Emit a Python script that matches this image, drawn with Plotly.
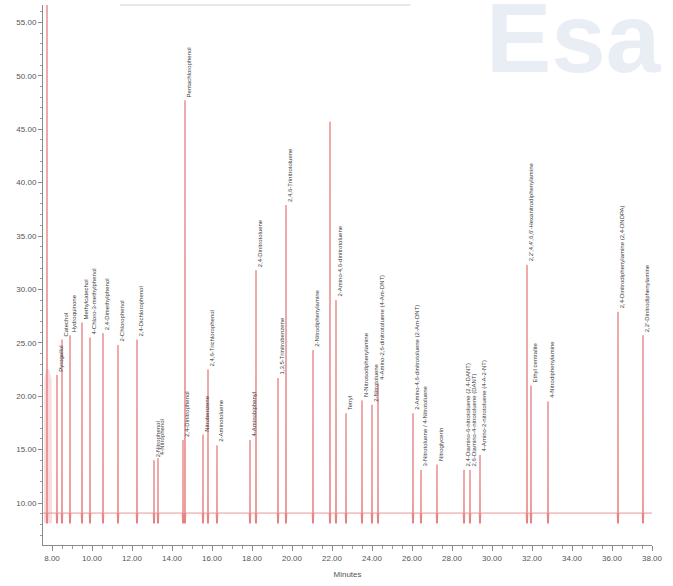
import plotly.graph_objects as go

# Retention times (minutes), detector response and compound labels
ret_times = [8.25, 8.50, 8.90, 9.50, 9.90, 10.55, 11.30, 12.25, 13.10, 13.30,
             14.55, 14.65, 15.55, 15.80, 16.25, 17.90, 18.20, 19.30, 19.70, 21.05,
             21.90, 22.20, 22.70, 23.50, 24.00, 24.30, 26.05, 26.45, 27.25, 28.60,
             28.90, 29.40, 31.75, 31.95, 32.80, 36.30, 37.55]
responses = [22.0, 25.3, 25.7, 26.9, 25.5, 25.9, 24.8, 25.3, 14.0, 14.2,
             15.9, 47.7, 16.4, 22.5, 15.4, 15.9, 31.8, 21.7, 37.9, 24.3,
             45.7, 29.0, 18.4, 19.6, 19.2, 21.2, 18.4, 13.1, 13.6, 13.1,
             13.1, 14.5, 32.3, 21.0, 19.5, 27.9, 25.7]
names = ["Pyrogallol", "Catechol", "Hydroquinone", "Methylcatechol",
         "4-Chloro-3-methylphenol", "2,4-Dimethylphenol", "2-Chlorophenol",
         "2,4-Dichlorophenol", "2-Nitrophenol", "4-Nitrophenol",
         "2,4-Dinitrophenol", "Pentachlorophenol", "Nitrobenzene",
         "2,4,6-Trichlorophenol", "2-Aminotoluene", "4-Aminobiphenyl",
         "2,4-Dinitrotoluene", "1,3,5-Trinitrobenzene", "2,4,6-Trinitrotoluene",
         "2-Nitrodiphenylamine", "", "2-Amino-4,6-dinitrotoluene", "Tetryl",
         "N-Nitrosodiphenylamine", "2-Nitrotoluene",
         "4-Amino-2,6-dinitrotoluene (4-Am-DNT)",
         "2-Amino-4,6-dinitrotoluene (2-Am-DNT)",
         "3-Nitrotoluene / 4-Nitrotoluene", "Nitroglycerin",
         "2,4-Diamino-6-nitrotoluene (2,4-DANT)",
         "2,6-Diamino-4-nitrotoluene (DANT)",
         "4-Amino-2-nitrotoluene (4-A-2-NT)",
         "2,2',4,4',6,6'-Hexanitrodiphenylamine", "Ethyl centralite",
         "4-Nitrodiphenylamine", "2,4-Dinitrodiphenylamine (2,4-DNDPA)",
         "2,2'-Dinitrodiphenylamine"]

solvent_time = 7.75
solvent_height = 60.0
baseline = 9.06
trough = 8.1
y_ticks = [10, 15, 20, 25, 30, 35, 40, 45, 50, 55]
x_ticks = [8, 10, 12, 14, 16, 18, 20, 22, 24, 26, 28, 30, 32, 34, 36, 38]

X_MIN, X_MAX = 7.55, 38.0
Y_MIN, Y_MAX = 6.07, 56.63
LINE = "#e37b7b"
FONT = "Liberation Sans"

# Detector trace: flat baseline with a narrow spike at each peak
all_peaks = sorted(zip([solvent_time] + ret_times, [solvent_height] + responses))
tx, ty = [X_MIN], [baseline]
half = 0.04
for t, h in all_peaks:
    tx += [t - half, t - half / 2, t, t + half / 2, t + half]
    ty += [baseline, trough, h, trough, baseline]
tx.append(X_MAX)
ty.append(baseline)

fig = go.Figure()

# broad solvent-front hump at the start of the run
fig.add_trace(go.Scatter(
    x=[7.6, 7.62, 7.7, 7.85, 7.98, 8.0],
    y=[trough, 21.5, 22.5, 22.5, 21.5, trough],
    fill="toself", fillcolor="rgba(240,140,150,0.3)",
    line=dict(width=0), mode="lines", hoverinfo="skip", showlegend=False))

fig.add_trace(go.Scatter(
    x=tx, y=ty, mode="lines", line=dict(color=LINE, width=0.8),
    hoverinfo="skip", showlegend=False, cliponaxis=True))

# peak labels, written upward from each apex
for t, h, n in zip(ret_times, responses, names):
    if not n:
        continue
    fig.add_annotation(
        x=t, y=h, text=n, textangle=-90, showarrow=False,
        xanchor="center", yanchor="bottom", xshift=4, yshift=1,
        font=dict(size=6, color="#3a3a3a", family=FONT))

# faint logo in the upper right corner
fig.add_annotation(
    xref="paper", yref="paper", x=1.0, y=1.0, text="<b>Esa</b>",
    showarrow=False, xanchor="right", yanchor="top", xshift=12, yshift=24,
    font=dict(size=98, color="#e9edf4", family=FONT))

# thin rule along the top
fig.add_shape(type="line", xref="paper", yref="paper",
              x0=0.126, x1=0.603, y0=1.0, y1=1.0,
              line=dict(color="#cfcfcf", width=1))

fig.update_layout(
    width=673, height=586,
    margin=dict(l=43, r=21, t=5, b=41),
    paper_bgcolor="white", plot_bgcolor="white",
    xaxis=dict(
        range=[X_MIN, X_MAX], tickvals=x_ticks,
        ticktext=[f"{v:.2f}" for v in x_ticks],
        showgrid=False, zeroline=False, showline=True, linecolor="#8a8a8a",
        linewidth=1, ticks="outside", ticklen=5, tickcolor="#8a8a8a",
        minor=dict(dtick=0.5, ticks="outside", ticklen=3, tickcolor="#9a9a9a"),
        tickfont=dict(size=8, color="#555", family=FONT),
        title=dict(text="Minutes", font=dict(size=8, color="#555", family=FONT),
                   standoff=9)),
    yaxis=dict(
        range=[Y_MIN, Y_MAX], tickvals=y_ticks,
        ticktext=[f"{v:.2f}" for v in y_ticks],
        showgrid=False, zeroline=False, showline=True, linecolor="#8a8a8a",
        linewidth=1, ticks="outside", ticklen=4, tickcolor="#8a8a8a",
        minor=dict(dtick=1, ticks="outside", ticklen=2, tickcolor="#9a9a9a"),
        tickfont=dict(size=8, color="#555", family=FONT)),
)

fig.write_html("out.html")
